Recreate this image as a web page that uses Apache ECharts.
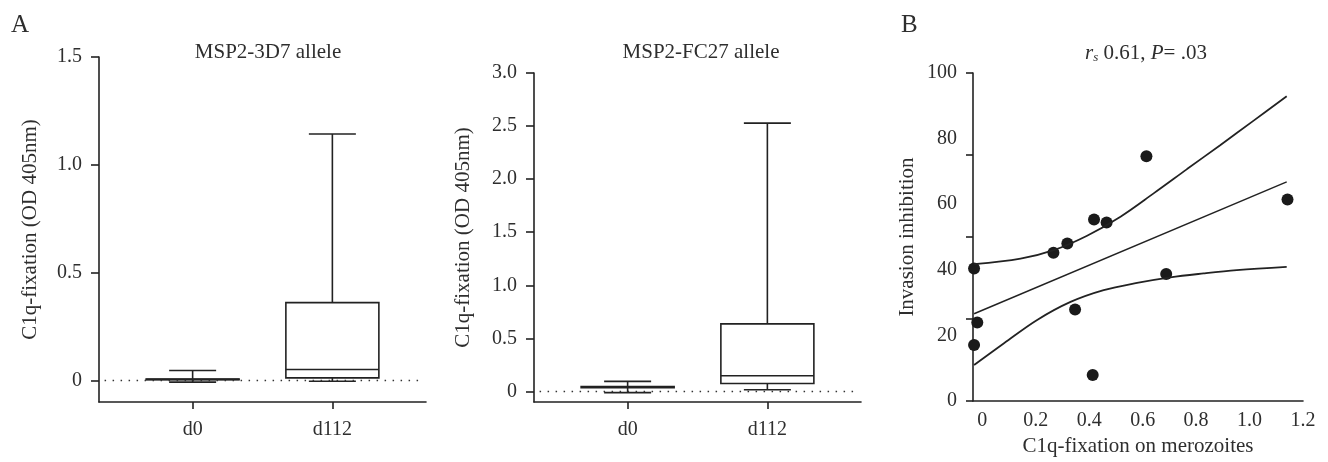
<!DOCTYPE html>
<html>
<head>
<meta charset="utf-8">
<script src="https://cdn.jsdelivr.net/npm/echarts@6/dist/echarts.min.js"></script>
<style>html,body{margin:0;padding:0;background:#fff}#c{width:1328px;height:462px}</style>
</head>
<body>
<div id="c"></div>
<script>
// ---- Data ----
const categories = ['d0', 'd112'];
// box stats: [min, Q1, median, Q3, max]
const msp3d7_d0   = [-0.008, 0.003, 0.005, 0.007, 0.046];
const msp3d7_d112 = [-0.004, 0.012, 0.051, 0.361, 1.143];
const fc27_d0     = [-0.012, 0.035, 0.040, 0.045, 0.094];
const fc27_d112   = [0.016, 0.075, 0.148, 0.636, 2.528];
const ticks3d7 = [0, 0.5, 1.0, 1.5];
const labels3d7 = ['0', '0.5', '1.0', '1.5'];
const ticksFc27 = [0, 0.5, 1.0, 1.5, 2.0, 2.5, 3.0];
const labelsFc27 = ['0', '0.5', '1.0', '1.5', '2.0', '2.5', '3.0'];

// Panel B scatter
const c1qX = [-0.031, -0.019, -0.031, 0.266, 0.318, 0.418, 0.465, 0.614, 0.347, 0.413, 0.688, 1.142];
const invY = [40.4, 23.9, 17.1, 45.2, 48.0, 55.3, 54.4, 74.6, 27.9, 7.9, 38.7, 61.4];
// regression line and confidence band
const fitX = [-0.031, 1.139];
const fitY = [26.6, 66.8];
const upperX = [-0.031, 0.143, 0.267, 0.392, 0.517, 0.641, 0.766, 0.89, 1.014, 1.139];
const upperY = [41.7, 43.4, 46.0, 50.4, 56.2, 63.3, 70.7, 78.0, 85.4, 92.9];
const lowerX = [-0.031, 0.081, 0.205, 0.33, 0.454, 0.579, 0.703, 0.828, 0.952, 1.139];
const lowerY = [11.0, 17.6, 24.7, 30.2, 33.8, 36.0, 37.7, 38.9, 39.9, 40.9];
const bTickY = [0, 25, 50, 75, 100];
const bLabelY = [0, 20, 40, 60, 80, 100];
const bLabelX = [0, 0.2, 0.4, 0.6, 0.8, 1.0, 1.2];

// ---- Styling ----
const FONT = '"Liberation Serif", "DejaVu Serif", serif';
const TXT = '#2e2e2e';
const LN = '#222';
const FS = 20;   // tick labels
const FN = 21;   // titles and axis names

function boxData(a, b) {
  return [[0].concat(a), [1].concat(b)];
}
function renderBox(params, api) {
  const x = api.value(0);
  const pMin = api.coord([x, api.value(1)]);
  const pQ1 = api.coord([x, api.value(2)]);
  const pMed = api.coord([x, api.value(3)]);
  const pQ3 = api.coord([x, api.value(4)]);
  const pMax = api.coord([x, api.value(5)]);
  const hw = 46.5, cw = 23.5;
  const cx = pMed[0];
  const st = { stroke: LN, lineWidth: 1.6, fill: null };
  return {
    type: 'group',
    children: [
      { type: 'line', shape: { x1: cx, y1: pMax[1], x2: cx, y2: pQ3[1] }, style: st },
      { type: 'line', shape: { x1: cx, y1: pQ1[1], x2: cx, y2: pMin[1] }, style: st },
      { type: 'line', shape: { x1: cx - cw, y1: pMax[1], x2: cx + cw, y2: pMax[1] }, style: st },
      { type: 'line', shape: { x1: cx - cw, y1: pMin[1], x2: cx + cw, y2: pMin[1] }, style: st },
      { type: 'rect', shape: { x: cx - hw, y: pQ3[1], width: 2 * hw, height: pQ1[1] - pQ3[1] }, style: { stroke: LN, lineWidth: 1.6, fill: '#fff' } },
      { type: 'line', shape: { x1: cx - hw, y1: pMed[1], x2: cx + hw, y2: pMed[1] }, style: st }
    ]
  };
}

const axisLineStyle = { lineStyle: { color: LN, width: 1.6 } };
const labelStyle = { color: TXT, fontFamily: FONT, fontSize: FS };

function boxXAxis(gi) {
  return {
    gridIndex: gi, type: 'value', min: -0.67, max: 1.67,
    splitLine: { show: false },
    axisLine: Object.assign({ onZero: false }, axisLineStyle),
    axisTick: { show: true, length: 7, lineStyle: { color: LN, width: 1.6 }, customValues: [0, 1] },
    axisLabel: Object.assign({ margin: 18, customValues: [0, 1], formatter: v => categories[Math.round(v)] }, labelStyle)
  };
}
function boxYAxis(gi, max, ticks, labels, gap) {
  return {
    gridIndex: gi, type: 'value', min: -0.1, max: max,
    name: 'C1q-fixation (OD 405nm)', nameLocation: 'middle', nameGap: gap,
    nameTextStyle: { color: TXT, fontFamily: FONT, fontSize: FN },
    splitLine: { show: false },
    axisLine: Object.assign({ onZero: false }, axisLineStyle),
    axisTick: { show: true, length: 8, lineStyle: { color: LN, width: 1.6 }, customValues: ticks },
    axisLabel: Object.assign({ margin: 17, customValues: ticks, formatter: v => labels[ticks.findIndex(t => Math.abs(t - v) < 1e-9)] }, labelStyle)
  };
}
function zeroLine() {
  return {
    symbol: 'none', silent: true, label: { show: false },
    lineStyle: { type: [1.5, 6.5], color: '#333', width: 1.4 },
    data: [[{ coord: [-0.63, 0] }, { coord: [1.63, 0] }]]
  };
}

const chart = echarts.init(document.getElementById('c'), null, { renderer: 'canvas' });
chart.setOption({
  animation: false,
  backgroundColor: '#fff',
  title: [
    { text: 'A', left: 6, top: 8, textStyle: { color: TXT, fontFamily: FONT, fontSize: 25, fontWeight: 'normal' } },
    { text: 'MSP2-3D7 allele', left: 263, top: 37, textAlign: 'center', textStyle: { color: TXT, fontFamily: FONT, fontSize: FN, fontWeight: 'normal' } },
    { text: 'MSP2-FC27 allele', left: 696, top: 37, textAlign: 'center', textStyle: { color: TXT, fontFamily: FONT, fontSize: FN, fontWeight: 'normal' } },
    { text: 'B', left: 896, top: 8, textStyle: { color: TXT, fontFamily: FONT, fontSize: 25, fontWeight: 'normal' } },
    {
      text: '{i|r}{sub|s} 0.61, {i|P}= .03', left: 1141, top: 37, textAlign: 'center',
      textStyle: {
        color: TXT, fontFamily: FONT, fontSize: FN, fontWeight: 'normal',
        rich: {
          i: { fontStyle: 'italic', fontFamily: FONT, fontSize: FN, color: TXT },
          sub: { fontStyle: 'italic', fontFamily: FONT, fontSize: 13, color: TXT, verticalAlign: 'bottom', padding: [9, 0, 0, 0] }
        }
      }
    }
  ],
  grid: [
    { left: 99, top: 57, width: 327, height: 345, containLabel: false },
    { left: 534, top: 73, width: 327, height: 329, containLabel: false },
    { left: 973, top: 73, width: 330, height: 328, containLabel: false }
  ],
  xAxis: [
    boxXAxis(0),
    boxXAxis(1),
    {
      gridIndex: 2, type: 'value', min: -0.035, max: 1.2,
      name: 'C1q-fixation on merozoites', nameLocation: 'middle', nameGap: 32,
      nameTextStyle: { color: TXT, fontFamily: FONT, fontSize: FN },
      splitLine: { show: false },
      axisLine: Object.assign({ onZero: false }, axisLineStyle),
      axisTick: { show: false },
      axisLabel: Object.assign({ margin: 10, customValues: bLabelX, formatter: v => (v === 0 ? '0' : v.toFixed(1)) }, labelStyle)
    }
  ],
  yAxis: [
    boxYAxis(0, 1.5, ticks3d7, labels3d7, 58),
    boxYAxis(1, 3.0, ticksFc27, labelsFc27, 60),
    {
      gridIndex: 2, type: 'value', min: 0, max: 100,
      name: 'Invasion inhibition', nameLocation: 'middle', nameGap: 55,
      nameTextStyle: { color: TXT, fontFamily: FONT, fontSize: FN },
      splitLine: { show: false },
      axisLine: Object.assign({ onZero: false }, axisLineStyle),
      axisTick: { show: true, length: 7, lineStyle: { color: LN, width: 1.6 }, customValues: bTickY },
      axisLabel: Object.assign({ margin: 16, customValues: bLabelY }, labelStyle)
    }
  ],
  series: [
    {
      type: 'custom', xAxisIndex: 0, yAxisIndex: 0, renderItem: renderBox,
      encode: { x: 0, y: [1, 2, 3, 4, 5] },
      data: boxData(msp3d7_d0, msp3d7_d112), markLine: zeroLine(), clip: false
    },
    {
      type: 'custom', xAxisIndex: 1, yAxisIndex: 1, renderItem: renderBox,
      encode: { x: 0, y: [1, 2, 3, 4, 5] },
      data: boxData(fc27_d0, fc27_d112), markLine: zeroLine(), clip: false
    },
    {
      type: 'line', xAxisIndex: 2, yAxisIndex: 2, showSymbol: false, symbol: 'none', smooth: 0.35,
      lineStyle: { color: LN, width: 1.8 }, data: upperX.map((x, i) => [x, upperY[i]])
    },
    {
      type: 'line', xAxisIndex: 2, yAxisIndex: 2, showSymbol: false, symbol: 'none',
      lineStyle: { color: LN, width: 1.5 }, data: fitX.map((x, i) => [x, fitY[i]])
    },
    {
      type: 'line', xAxisIndex: 2, yAxisIndex: 2, showSymbol: false, symbol: 'none', smooth: 0.35,
      lineStyle: { color: LN, width: 1.8 }, data: lowerX.map((x, i) => [x, lowerY[i]])
    },
    {
      type: 'scatter', xAxisIndex: 2, yAxisIndex: 2, symbol: 'circle', symbolSize: 12,
      itemStyle: { color: '#1a1a1a', opacity: 1 }, data: c1qX.map((x, i) => [x, invY[i]]), clip: false
    }
  ]
});
</script>
</body>
</html>
